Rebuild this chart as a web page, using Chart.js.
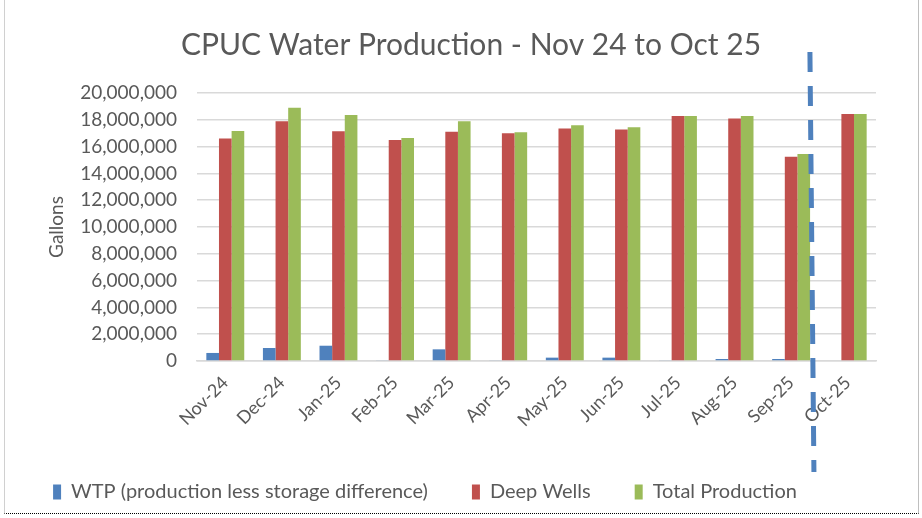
<!DOCTYPE html>
<html>
<head>
<meta charset="utf-8">
<script src="https://cdn.jsdelivr.net/npm/chart.js@4"></script>
<style>
  body { margin: 0; background: #fff; }
  #wrap { position: relative; width: 922px; height: 518px; }
  #frame {
    position: absolute; left: 4px; top: -2px; width: 913px; height: 515px;
    border-left: 1px solid #d0d0d0; border-right: 1px solid #bfbfbf;
    border-bottom: 1px dotted #000; pointer-events: none;
  }
</style>
</head>
<body>
<div id="wrap">
  <canvas id="mychart" width="922" height="518"></canvas>
  <div id="frame"></div>
</div>
<script>
const labels = [
  "Nov-24", "Dec-24", "Jan-25", "Feb-25", "Mar-25", "Apr-25",
  "May-25", "Jun-25", "Jul-25", "Aug-25", "Sep-25", "Oct-25",
];
const wtp = [
  600000, 970000, 1140000, 50000, 870000, 50000,
  250000, 250000, 50000, 150000, 150000, 0,
];
const deepWells = [
  16600000, 17900000, 17150000, 16500000, 17100000, 17000000,
  17350000, 17270000, 18280000, 18100000, 15250000, 18430000,
];
const totalProduction = [
  17160000, 18900000, 18360000, 16640000, 17900000, 17080000,
  17600000, 17440000, 18280000, 18280000, 15450000, 18430000,
];
const yTicks = { min: 0, max: 20000000, step: 2000000 };
// dashed marker sits between Sep-25 and Oct-25
const markerPos = 10.35;

const grey = "#595959";
const font = "Lato, 'Open Sans', sans-serif";

const markerLine = {
  id: "markerLine",
  afterDatasetsDraw(chart) {
    const ctx = chart.ctx;
    const area = chart.chartArea;
    const x = chart.scales.x.getPixelForValue(markerPos);
    ctx.save();
    ctx.strokeStyle = "#4f81bd";
    ctx.lineWidth = 5;
    ctx.setLineDash([20, 14]);
    ctx.beginPath();
    ctx.moveTo(x - 1, area.top - 41);
    ctx.lineTo(x + 3, area.bottom + 111);
    ctx.stroke();
    ctx.restore();
  },
};

// title sits a little right of centre, legend a little left
const nudgeBoxes = {
  id: "nudgeBoxes",
  afterLayout(chart) {
    chart.titleBlock.left += 13;
    chart.titleBlock.right += 13;
    chart.legend.left -= 33;
    chart.legend.right -= 33;
  },
};

const data = {
  labels: labels,
  datasets: [
    {
      label: "WTP (production less storage difference)",
      backgroundColor: "#4f81bd",
      data: wtp,
    },
    {
      label: "Deep Wells",
      backgroundColor: "#c0504d",
      data: deepWells,
    },
    {
      label: "Total Production",
      backgroundColor: "#9bbb59",
      data: totalProduction,
    },
  ],
};

const config = {
  type: "bar",
  data: data,
  plugins: [markerLine, nudgeBoxes],
  options: {
    responsive: false,
    animation: false,
    layout: { padding: { left: 40, right: 46, top: 0, bottom: 6 } },
    datasets: { bar: { barPercentage: 1, categoryPercentage: 0.67 } },
    plugins: {
      title: {
        display: true,
        text: "CPUC Water Production - Nov 24 to Oct 25",
        color: grey,
        font: { family: font, size: 30, weight: "normal" },
        padding: { top: 27, bottom: 30 },
      },
      legend: {
        position: "bottom",
        labels: {
          color: grey,
          font: { family: font, size: 20 },
          boxWidth: 8,
          boxHeight: 15,
          padding: 44,
        },
      },
      tooltip: { enabled: false },
    },
    scales: {
      x: {
        grid: { display: false },
        border: { color: "#d9d9d9", width: 1.5 },
        ticks: {
          color: grey,
          font: { family: font, size: 18 },
          maxRotation: 45,
          minRotation: 45,
        },
        afterFit(scale) { scale.height = 77; },
      },
      y: {
        min: yTicks.min,
        max: yTicks.max,
        grid: { color: "#d9d9d9", lineWidth: 1.5, drawTicks: false },
        border: { display: false },
        title: {
          display: true,
          text: "Gallons",
          color: grey,
          font: { family: font, size: 19 },
          padding: { top: 5, bottom: 6 },
        },
        ticks: {
          stepSize: yTicks.step,
          autoSkip: false,
          color: grey,
          padding: 20,
          font: { family: font, size: 19 },
          callback: (v) => v.toLocaleString("en-US"),
        },
        afterFit(scale) { scale.width = 157; },
      },
    },
  },
};

const mychart = new Chart(document.getElementById("mychart"), config);
</script>
</body>
</html>
